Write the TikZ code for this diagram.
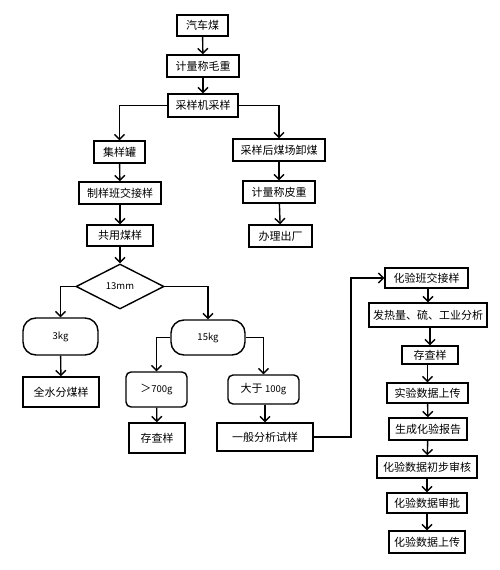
\documentclass[tikz,border=0pt]{standalone}
\usepackage{fontspec}
\setmainfont{Noto Sans CJK SC}
\usepackage{tikz}
\usetikzlibrary{arrows.meta, positioning, calc, shapes.geometric}
\tikzset{
	stepbox/.style={draw, line width=1.4pt, inner sep=0pt, font=\fontsize{11}{12}\selectfont},
	roundbox/.style={stepbox, rounded corners=5pt},
	pillbox/.style={stepbox, rounded corners=13pt, font=\fontsize{9.5}{11}\selectfont},
	flowarr/.style={->, line width=1.4pt},
}

\begin{document}
\begin{tikzpicture}[
		x=1pt, y=-1pt,
		decide/.style={draw, diamond, aspect=1.95, line width=1.4pt, inner sep=0pt, font=\fontsize{9.5}{11}\selectfont},
		>={Straight Barb[length=5pt, width=10pt]}
	]
		\useasboundingbox (0,0) rectangle (500,570);

		% Weighing and sampling
		\node[stepbox, minimum width=51pt, minimum height=21pt] (car) at (202.5,25.5) {汽车煤};
		\node[stepbox, minimum width=72pt, minimum height=22pt] (gross) at (203,66) {计量称毛重};
		\node[stepbox, minimum width=70pt, minimum height=23pt] (sampler) at (203,105.5) {采样机采样};

		% Left branch
		\node[stepbox, minimum width=51pt, minimum height=22pt] (can) at (119.5,152) {集样罐};
		\node[stepbox, minimum width=82pt, minimum height=22pt] (handover) at (120,193) {制样班交接样};
		\node[stepbox, minimum width=66pt, minimum height=21pt] (common) at (120,235.5) {共用煤样};

		% Right branch
		\node[stepbox, minimum width=92pt, minimum height=22pt] (unload) at (279,150) {采样后煤场卸煤};
		\node[stepbox, minimum width=72pt, minimum height=22pt] (tare) at (279,192) {计量称皮重};
		\node[stepbox, minimum width=63pt, minimum height=22pt] (leave) at (280.5,236) {办理出厂};

		% Sieve split
		\node[decide, minimum width=88pt, minimum height=45pt] (sieve) at (120,286.5) {13mm};
		\node[pillbox, minimum width=75pt, minimum height=37pt] (kgthree) at (60.5,336.5) {3kg};
		\node[pillbox, minimum width=74pt, minimum height=35pt] (kgfifteen) at (208,337.5) {15kg};
		\node[stepbox, minimum width=76pt, minimum height=30pt] (water) at (61,392) {全水分煤样};
		\node[roundbox, minimum width=61pt, minimum height=35pt] (gbig) at (156.5,389.5) {＞\fontsize{9.5}{11}\selectfont 700g};
		\node[roundbox, minimum width=71pt, minimum height=29pt] (gsmall) at (263.5,389.5) {大于 {\fontsize{9.5}{11}\selectfont 100g}};
		\node[stepbox, minimum width=56pt, minimum height=30pt] (keep) at (157,438) {存查样};
		\node[stepbox, minimum width=96pt, minimum height=28pt] (general) at (265,437) {一般分析试样};

		% Laboratory column
		\node[stepbox, minimum width=83pt, minimum height=20pt] (lab) at (426.5,278) {化验班交接样};
		\node[stepbox, minimum width=118pt, minimum height=24pt] (heat) at (428,315) {发热量、硫、工业分析};
		\node[stepbox, minimum width=56pt, minimum height=18pt] (labkeep) at (430,355) {存查样};
		\node[stepbox, minimum width=81pt, minimum height=20pt] (upone) at (427.5,393) {实验数据上传};
		\node[stepbox, minimum width=78pt, minimum height=22pt] (report) at (428,429) {生成化验报告};
		\node[stepbox, minimum width=100pt, minimum height=22pt] (review) at (427,467) {化验数据初步审核};
		\node[stepbox, minimum width=80pt, minimum height=20pt] (approve) at (427,503) {化验数据审批};
		\node[stepbox, minimum width=76pt, minimum height=22pt] (uptwo) at (427,542) {化验数据上传};
		\coordinate (turn) at (351,437);

		% Connectors
		\draw[flowarr] (car) -- (gross);
		\draw[flowarr] (gross) -- (sampler);
		\draw[flowarr] (sampler.west) -| (can.north);
		\draw[flowarr] (sampler.east) -| (unload.north);
		\draw[flowarr] (can) -- (handover);
		\draw[flowarr] (handover) -- (common);
		\draw[flowarr] (common) -- (sieve);
		\draw[flowarr] (unload) -- (tare);
		\draw[flowarr] (tare) -- (leave);
		\draw[flowarr] (sieve.west) -| (kgthree.north);
		\draw[flowarr] (sieve.east) -| (kgfifteen.north);
		\draw[flowarr] (kgthree) -- (water);
		\draw[flowarr] (kgfifteen.west) -| (gbig.north);
		\draw[flowarr] (kgfifteen.east) -| (gsmall.north);
		\draw[flowarr] (gbig) -- (keep);
		\draw[flowarr] (gsmall.south -| general.north) -- (general.north);
		\draw[flowarr] (general.east) -- (turn) |- (lab.west);
		\draw[flowarr] (lab.south -| heat.north) -- (heat.north);
		\draw[flowarr] (heat.south -| labkeep.north) -- (labkeep.north);
		\draw[flowarr] (labkeep.south -| upone.north) -- (upone.north);
		\draw[flowarr] (upone) -- (report);
		\draw[flowarr] (report) -- (review);
		\draw[flowarr] (review) -- (approve);
		\draw[flowarr] (approve) -- (uptwo);
	\end{tikzpicture}
\end{document}
